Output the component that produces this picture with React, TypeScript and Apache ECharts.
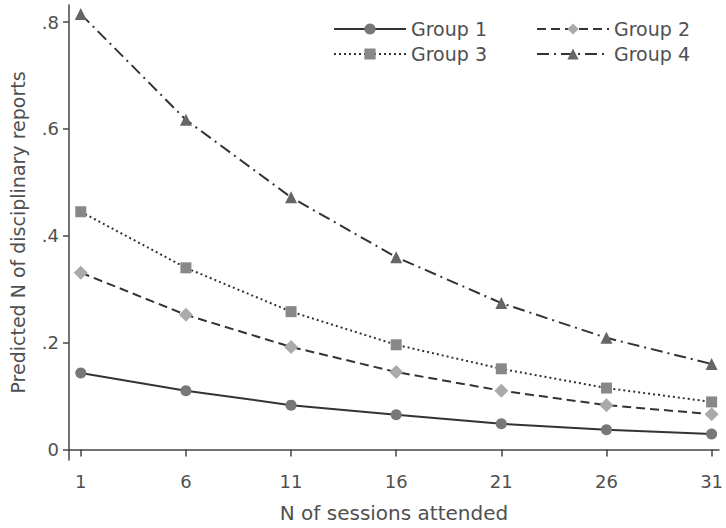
import React, { useEffect, useRef } from "react";
import * as echarts from "echarts";

const sessions = [1, 6, 11, 16, 21, 26, 31];
const group1 = [0.143, 0.110, 0.083, 0.065, 0.048, 0.037, 0.029];
const group2 = [0.331, 0.252, 0.192, 0.145, 0.110, 0.083, 0.066];
const group3 = [0.445, 0.340, 0.258, 0.196, 0.151, 0.115, 0.089];
const group4 = [0.815, 0.617, 0.472, 0.360, 0.274, 0.209, 0.160];
const xTicks = [1, 6, 11, 16, 21, 26, 31];
const yTicks = [0, 0.2, 0.4, 0.6, 0.8];
const seriesNames = ["Group 1", "Group 2", "Group 3", "Group 4"];

const FONT = "DejaVu Sans";
const TEXT = "#505050";

export default function App() {
  const ref = useRef<HTMLDivElement>(null);
  useEffect(() => {
    if (!ref.current) return;
    const chart = echarts.init(ref.current, null, { renderer: "svg" });
    const pairs = (vals: number[]) => sessions.map((s, i) => [s, vals[i]]);
    const lineColor = "#333333";
    const mk = (
      name: string,
      vals: number[],
      symbol: string,
      symbolSize: number,
      markerColor: string,
      type: any
    ) => ({
      name,
      type: "line",
      data: pairs(vals),
      symbol,
      symbolSize,
      showSymbol: true,
      itemStyle: { color: markerColor, borderWidth: 0 },
      lineStyle: { color: lineColor, width: 2, type },
      z: 3,
    });
    const legendBase = {
      itemWidth: 72,
      itemHeight: 14,
      padding: 0,
      textStyle: { fontFamily: FONT, fontSize: 19, lineHeight: 20, color: TEXT, padding: [0, 0, 0, 0] },
      selectedMode: false,
      itemGap: 6,
    };
    chart.setOption({
      animation: false,
      backgroundColor: "#ffffff",
      grid: { left: 64, top: 5, right: 4, bottom: 68 },
      legend: [
        { ...legendBase, data: [seriesNames[0]], left: 333, top: 19 },
        { ...legendBase, data: [seriesNames[1]], left: 536, top: 19 },
        { ...legendBase, data: [seriesNames[2]], left: 333, top: 44 },
        { ...legendBase, data: [seriesNames[3]], left: 536, top: 44 },
      ],
      xAxis: {
        type: "value",
        min: 0.44,
        max: 31.35,
        name: "N of sessions attended",
        nameLocation: "middle",
        nameGap: 43,
        nameTextStyle: { fontFamily: FONT, fontSize: 20, color: TEXT },
        axisLine: { show: true, lineStyle: { color: "#444", width: 1.5 } },
        axisTick: { show: true, customValues: xTicks, length: 7, lineStyle: { color: "#444", width: 1.5 } },
        axisLabel: {
          customValues: xTicks,
          fontFamily: FONT,
          fontSize: 18,
          color: TEXT,
          margin: 12,
        },
        splitLine: { show: false },
      },
      yAxis: {
        type: "value",
        min: -0.0197,
        max: 0.832,
        name: "Predicted N of disciplinary reports",
        nameLocation: "middle",
        nameGap: 42,
        nameTextStyle: { fontFamily: FONT, fontSize: 19, color: TEXT },
        axisLine: { show: true, lineStyle: { color: "#444", width: 1.5 } },
        axisTick: { show: true, customValues: yTicks, length: 6, lineStyle: { color: "#444", width: 1.5 } },
        axisLabel: {
          customValues: yTicks,
          fontFamily: FONT,
          fontSize: 18,
          color: TEXT,
          margin: 10,
          formatter: (v: number) => (v === 0 ? "0" : String(Math.round(v * 10) / 10).replace(/^0/, "")),
        },
        splitLine: { show: false },
      },
      series: [
        mk(seriesNames[0], group1, "circle", 11, "#777777", "solid"),
        mk(seriesNames[1], group2, "diamond", 14, "#aaaaaa", [9, 5]),
        mk(seriesNames[2], group3, "rect", 11, "#888888", [2, 3]),
        mk(seriesNames[3], group4, "triangle", 12, "#666666", [12, 5, 2, 5]),
      ],
    });
    return () => chart.dispose();
  }, []);
  return (
    <div
      ref={ref}
      style={{ position: "absolute", left: 0, top: 0, width: 726, height: 528 }}
    />
  );
}
